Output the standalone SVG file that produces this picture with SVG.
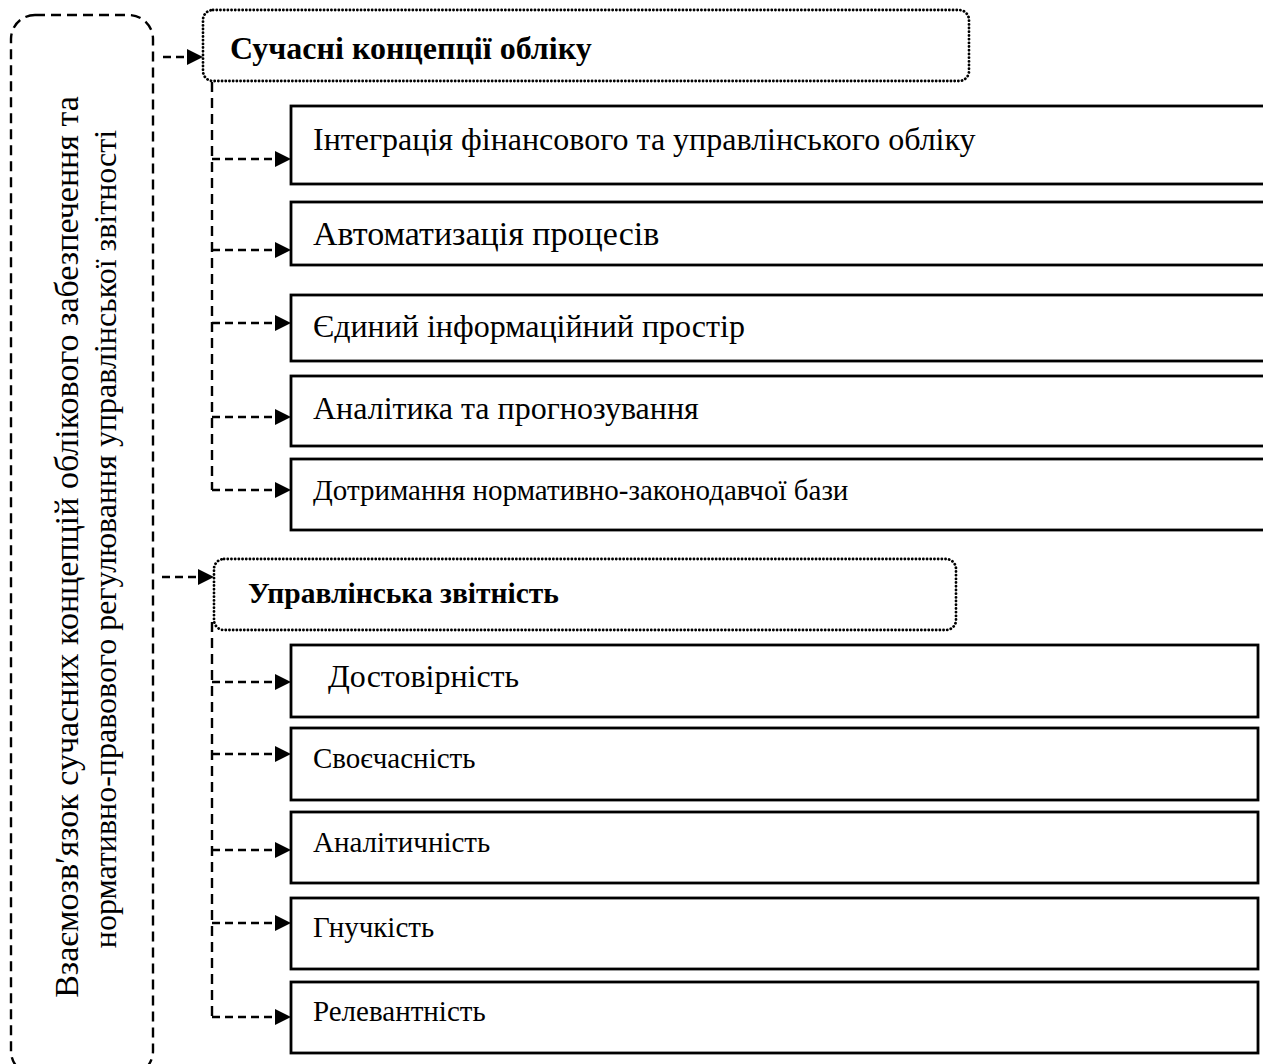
<svg xmlns="http://www.w3.org/2000/svg" width="1263" height="1064" viewBox="0 0 1263 1064">
<style>
.dash{fill:none;stroke:#000;stroke-width:2.4;stroke-dasharray:10 6}
.hd{fill:none;stroke:#000;stroke-width:2.5;stroke-dasharray:8 5}
.dot{fill:none;stroke:#000;stroke-width:2.8;stroke-dasharray:0.1 3.6;stroke-linecap:round}
.box{fill:#fff;stroke:#000;stroke-width:2.8}
.t{font-family:"Liberation Serif","Times New Roman",serif;fill:#000}
.m{font-size:32px}
.s{font-size:29px}
.b{font-weight:bold}
</style>
<defs>
<marker id="ah" markerWidth="16" markerHeight="16" refX="15" refY="8" orient="auto" markerUnits="userSpaceOnUse">
<path d="M0,0 L16,8 L0,16 Z" fill="#000"/>
</marker>
</defs>
<rect width="1263" height="1064" fill="#fff"/>
<g id="root">
<rect class="dash" x="11" y="15" width="142" height="1060" rx="24" ry="24"/>
<text class="t" font-size="34" transform="translate(78,547) rotate(-90)" text-anchor="middle">Взаємозв′язок сучасних концепцій облікового забезпечення та</text>
<text class="t" font-size="32" transform="translate(116,539) rotate(-90)" text-anchor="middle">нормативно-правового регулювання управлінської звітності</text>
</g>
<g id="head1">
<rect class="dot" x="203" y="10" width="766" height="71" rx="10" ry="10"/>
<text class="t m b" x="230" y="59">Сучасні концепції обліку</text>
</g>
<g id="head2">
<rect class="dot" x="214" y="559" width="742" height="71" rx="10" ry="10"/>
<text class="t b" font-size="29.5" x="248" y="603">Управлінська звітність</text>
</g>
<g id="n1"><rect class="box" x="291" y="106" width="990" height="78"/><text class="t m" x="313" y="150">Інтеграція фінансового та управлінського обліку</text></g>
<g id="n2"><rect class="box" x="291" y="202" width="990" height="63"/><text class="t" font-size="34" x="313" y="245">Автоматизація процесів</text></g>
<g id="n3"><rect class="box" x="291" y="295" width="990" height="66"/><text class="t m" x="313" y="337">Єдиний інформаційний простір</text></g>
<g id="n4"><rect class="box" x="291" y="376" width="990" height="70"/><text class="t m" x="313" y="419">Аналітика та прогнозування</text></g>
<g id="n5"><rect class="box" x="291" y="459" width="990" height="71"/><text class="t s" x="313" y="500">Дотримання нормативно-законодавчої бази</text></g>
<g id="n6"><rect class="box" x="291" y="645" width="967" height="72"/><text class="t m" x="328" y="687">Достовірність</text></g>
<g id="n7"><rect class="box" x="291" y="728" width="967" height="72"/><text class="t s" x="313" y="768">Своєчасність</text></g>
<g id="n8"><rect class="box" x="291" y="812" width="967" height="71"/><text class="t s" x="313" y="852">Аналітичність</text></g>
<g id="n9"><rect class="box" x="291" y="898" width="967" height="71"/><text class="t s" x="313" y="937">Гнучкість</text></g>
<g id="n10"><rect class="box" x="291" y="982" width="967" height="71"/><text class="t s" x="313" y="1021">Релевантність</text></g>
<g id="connectors">
<path class="hd" d="M163,57 H202" marker-end="url(#ah)"/>
<path class="hd" d="M162,577 H213" marker-end="url(#ah)"/>
<path class="dash" d="M212,82 V490"/>
<path class="hd" d="M212,159 H290" marker-end="url(#ah)"/>
<path class="hd" d="M212,250 H290" marker-end="url(#ah)"/>
<path class="hd" d="M212,323 H290" marker-end="url(#ah)"/>
<path class="hd" d="M212,417 H290" marker-end="url(#ah)"/>
<path class="hd" d="M212,490 H290" marker-end="url(#ah)"/>
<path class="dash" d="M212,622 V1017"/>
<path class="hd" d="M212,682 H290" marker-end="url(#ah)"/>
<path class="hd" d="M212,754 H290" marker-end="url(#ah)"/>
<path class="hd" d="M212,850 H290" marker-end="url(#ah)"/>
<path class="hd" d="M212,923 H290" marker-end="url(#ah)"/>
<path class="hd" d="M212,1017 H290" marker-end="url(#ah)"/>
</g>
</svg>
